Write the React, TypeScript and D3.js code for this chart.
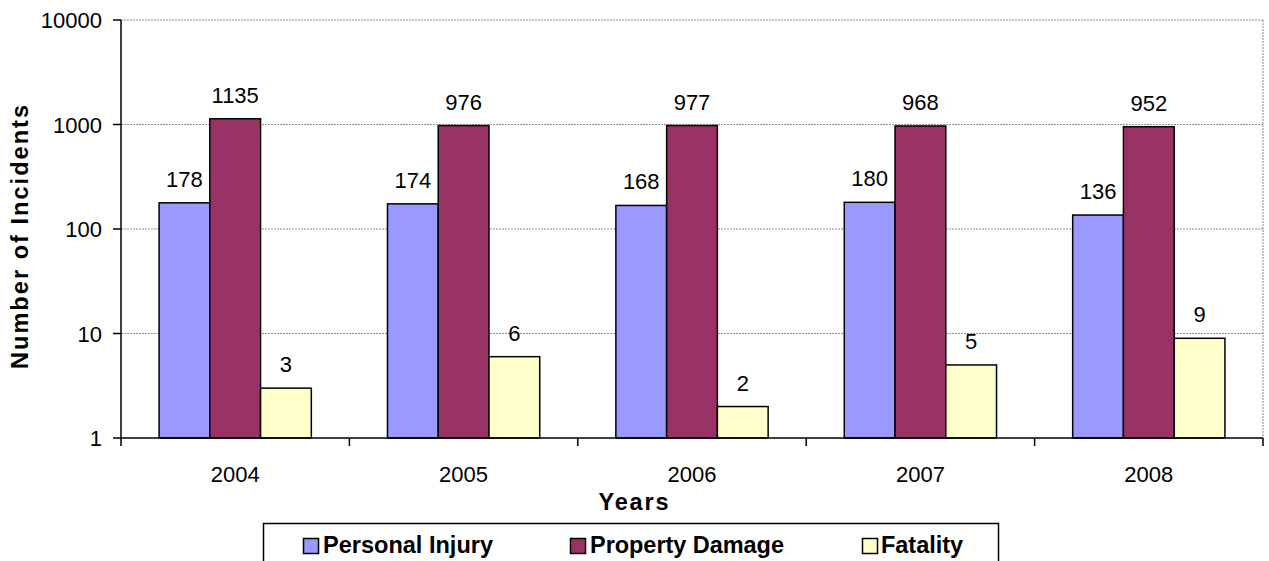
import React from "react";
import * as d3 from "d3";

const years = ["2004", "2005", "2006", "2007", "2008"];
const seriesNames = ["Personal Injury", "Property Damage", "Fatality"];
const personalInjury = [178, 174, 168, 180, 136];
const propertyDamage = [1135, 976, 977, 968, 952];
const fatality = [3, 6, 2, 5, 9];
const yTicks = [1, 10, 100, 1000, 10000];
const colors = ["#9999FF", "#993366", "#FFFFCC"];

const W = 1269;
const H = 561;
const plot = { left: 121, right: 1263, top: 20, bottom: 438 };
const FONT = "'Liberation Sans', Arial, sans-serif";

export default function App() {
  const series = [personalInjury, propertyDamage, fatality];
  const x = d3.scaleBand<string>().domain(years).range([plot.left, plot.right]).paddingInner(0).paddingOuter(0);
  const cw = x.bandwidth();
  const bw = cw / 4.5;
  const y = d3.scaleLog().domain([1, 10000]).range([plot.bottom, plot.top]);

  const legendItems = [
    { sq: 303, tx: 323, tl: 170 },
    { sq: 570, tx: 590, tl: 194 },
    { sq: 862, tx: 881, tl: 82 },
  ];

  return (
    <svg width={W} height={H} style={{ position: "absolute", left: 0, top: 0, background: "#fff" }} fontFamily={FONT}>
      {/* gridlines */}
      {yTicks.slice(1).map((t) => (
        <line key={"g" + t} x1={plot.left} x2={plot.right} y1={y(t)} y2={y(t)} stroke="#8c8c8c" strokeWidth={1} strokeDasharray="2,1" />
      ))}
      {/* right border */}
      <line x1={plot.right} x2={plot.right} y1={plot.top} y2={plot.bottom} stroke="#8c8c8c" strokeWidth={1} strokeDasharray="2,1" />
      {/* bars */}
      {years.map((yr, i) => {
        const g0 = (x(yr) as number) + bw * 0.75;
        return series.map((s, k) => (
          <rect key={yr + k} x={g0 + k * bw} y={y(s[i])} width={bw} height={plot.bottom - y(s[i])} fill={colors[k]} stroke="#000" strokeWidth={1.5} />
        ));
      })}
      {/* data labels */}
      {years.map((yr, i) => {
        const g0 = (x(yr) as number) + bw * 0.75;
        return series.map((s, k) => (
          <text key={"l" + yr + k} x={g0 + k * bw + bw / 2} y={y(s[i]) - 16} textAnchor="middle" fontSize={22} fill="#000">
            {s[i]}
          </text>
        ));
      })}
      {/* axes */}
      <line x1={plot.left} x2={plot.left} y1={plot.top} y2={plot.bottom + 8} stroke="#000" strokeWidth={1.5} />
      <line x1={plot.left} x2={plot.right} y1={plot.bottom} y2={plot.bottom} stroke="#000" strokeWidth={1.5} />
      {yTicks.map((t) => (
        <g key={"yt" + t}>
          <line x1={plot.left - 8} x2={plot.left} y1={y(t)} y2={y(t)} stroke="#000" strokeWidth={1.5} />
          <text x={102} y={y(t) + 8} textAnchor="end" fontSize={22} fill="#000">
            {t}
          </text>
        </g>
      ))}
      {years.map((yr) => (
        <g key={"xt" + yr}>
          <line x1={(x(yr) as number) + cw} x2={(x(yr) as number) + cw} y1={plot.bottom} y2={plot.bottom + 8} stroke="#000" strokeWidth={1.5} />
          <text x={(x(yr) as number) + cw / 2} y={482} textAnchor="middle" fontSize={22} fill="#000">
            {yr}
          </text>
        </g>
      ))}
      {/* axis titles */}
      <text x={633.5} y={510} textAnchor="middle" fontSize={23.5} fontWeight="bold" textLength={70} lengthAdjust="spacing">
        Years
      </text>
      <text transform="translate(28,237) rotate(-90)" textAnchor="middle" fontSize={23.5} fontWeight="bold" textLength={264} lengthAdjust="spacing">
        Number of Incidents
      </text>
      {/* legend */}
      <rect x={263.5} y={523.5} width={735} height={60} fill="#fff" stroke="#000" strokeWidth={1.5} />
      {seriesNames.map((n, k) => (
        <g key={"lg" + n}>
          <rect x={legendItems[k].sq + 0.5} y={538.5} width={15} height={15} fill={colors[k]} stroke="#000" strokeWidth={1.5} />
          <text x={legendItems[k].tx} y={553} fontSize={23.5} fontWeight="bold" textLength={legendItems[k].tl} lengthAdjust="spacing">
            {n}
          </text>
        </g>
      ))}
    </svg>
  );
}
